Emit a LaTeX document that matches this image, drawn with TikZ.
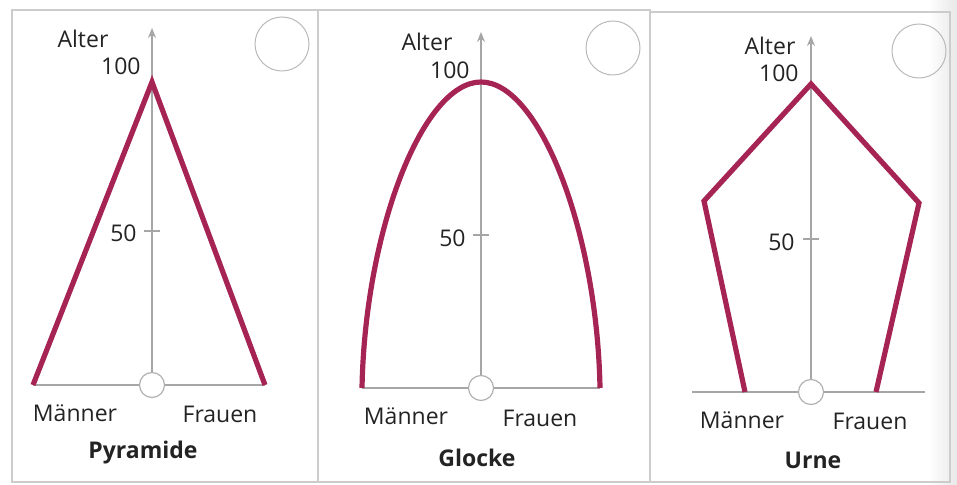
\documentclass[tikz,border=0pt]{standalone}
\usepackage{fontspec}
\setmainfont{Open Sans}
\usetikzlibrary{arrows.meta}
\definecolor{kurvenrot}{RGB}{166,36,84}
\definecolor{schrift}{RGB}{35,35,35}
\begin{document}
\begin{tikzpicture}[x=0.5pt,y=-0.5pt,>={Stealth[length=5pt,width=4pt]},
  kurve/.style={draw=kurvenrot,line width=2.6pt},
  achse/.style={draw=gray!70,line width=0.6pt},
  rahmen/.style={draw=gray!40,line width=0.6pt},
  ring/.style={circle,draw=gray!60,line width=0.6pt,fill=white,inner sep=0pt,minimum size=12.5pt},
  marke/.style={circle,draw=gray!55,line width=0.5pt,inner sep=0pt,minimum size=27pt},
  lbl/.style={text=schrift,font=\fontsize{11.5}{13}\selectfont,inner sep=1pt},
  titel/.style={lbl,font=\fontsize{11.5}{13}\selectfont\bfseries}]
\useasboundingbox (0,0) rectangle (957,485);
\shade[left color=white,right color=gray!18] (928,0) rectangle (957,485);

% Rahmen
\draw[rahmen] (12,10) rectangle (318,482);
\draw[rahmen] (318,10) rectangle (650,482);
\draw[rahmen] (650,12) rectangle (950,482);

% Pyramide
\node[ring] (k1) at (152,385) {};
\coordinate (s1) at (152,28);
\coordinate (t1) at (152,231);
\draw[achse,->] (k1) -- (s1);
\draw[achse] (33,385) -- (k1) -- (265,385);
\draw[achse] ([xshift=-4pt]t1) -- ([xshift=4pt]t1);
\node[lbl,anchor=east] (h1) at (143,66) {100};
\node[lbl,anchor=east] (f1) at (139,233) {50};
\node[lbl] (a1) at (83,39) {Alter};
\coordinate (p1l) at (33,385);
\coordinate (p1o) at (152,82);
\coordinate (p1r) at (265,385);
\draw[kurve,line join=miter] (p1l) -- (p1o) -- (p1r);
\node[marke] (m1) at (282,44) {};
\node[lbl] (mn1) at (75,413) {Männer};
\node[lbl] (fr1) at (220,414) {Frauen};
\node[titel] (n1) at (143,453) {Pyramide};

% Glocke
\node[ring] (k2) at (481,388) {};
\coordinate (s2) at (481,32);
\coordinate (t2) at (481,235);
\draw[achse,->] (k2) -- (s2);
\draw[achse] (362,388) -- (k2) -- (600,388);
\draw[achse] ([xshift=-4pt]t2) -- ([xshift=4pt]t2);
\node[lbl,anchor=east] (h2) at (472,70) {100};
\node[lbl,anchor=east] (f2) at (468,238) {50};
\node[lbl] (a2) at (427,42) {Alter};
\coordinate (g2l) at (362,388);
\coordinate (g2o) at (481,82);
\coordinate (g2r) at (600,388);
\draw[kurve] (g2l) .. controls (365,230) and (423,82) .. (g2o)
  .. controls (539,82) and (597,230) .. (g2r);
\node[marke] (m2) at (613,48) {};
\node[lbl] (mn2) at (406,416) {Männer};
\node[lbl] (fr2) at (540,418) {Frauen};
\node[titel] (n2) at (477,458) {Glocke};

% Urne
\node[ring] (k3) at (811,392) {};
\coordinate (s3) at (811,36);
\coordinate (t3) at (811,239);
\draw[achse,->] (k3) -- (s3);
\draw[achse] (692,392) -- (k3) -- (925,392);
\draw[achse] ([xshift=-4pt]t3) -- ([xshift=4pt]t3);
\node[lbl,anchor=east] (h3) at (801,73) {100};
\node[lbl,anchor=east] (f3) at (797,242) {50};
\node[lbl] (a3) at (770,46) {Alter};
\coordinate (u3a) at (745,392);
\coordinate (u3b) at (704,201);
\coordinate (u3c) at (811,84);
\coordinate (u3d) at (919,203);
\coordinate (u3e) at (876,392);
\draw[kurve,line join=miter] (u3a) -- (u3b) -- (u3c) -- (u3d) -- (u3e);
\node[marke] (m3) at (919,51) {};
\node[lbl] (mn3) at (742,420) {Männer};
\node[lbl] (fr3) at (870,421) {Frauen};
\node[titel] (n3) at (813,460) {Urne};
\end{tikzpicture}
\end{document}
